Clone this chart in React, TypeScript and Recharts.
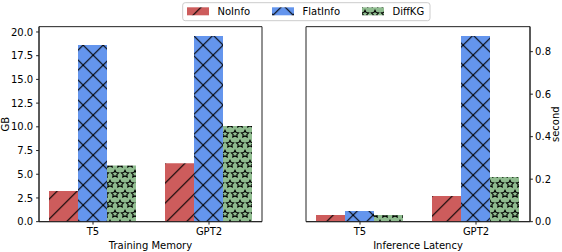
import React from 'react';
import { BarChart, Bar, XAxis, YAxis, Label, CartesianGrid } from 'recharts';

const categories = ['T5', 'GPT2'];
const seriesNames = ['NoInfo', 'FlatInfo', 'DiffKG'];
const seriesColors = ['#CD5C5C', '#6495ED', '#8FBC8F'];

const memoryNoInfo = [3.23, 6.15];
const memoryFlatInfo = [18.63, 19.58];
const memoryDiffKG = [5.91, 10.1];

const latencyNoInfo = [0.031, 0.121];
const latencyFlatInfo = [0.05, 0.874];
const latencyDiffKG = [0.031, 0.21];

const memoryTicks = [0, 2.5, 5, 7.5, 10, 12.5, 15, 17.5, 20];
const latencyTicks = [0, 0.2, 0.4, 0.6, 0.8];

const memoryData = categories.map((c, i) => ({
  name: c,
  NoInfo: memoryNoInfo[i],
  FlatInfo: memoryFlatInfo[i],
  DiffKG: memoryDiffKG[i],
}));
const latencyData = categories.map((c, i) => ({
  name: c,
  NoInfo: latencyNoInfo[i],
  FlatInfo: latencyFlatInfo[i],
  DiffKG: latencyDiffKG[i],
}));

const FONT = '"DejaVu Sans", sans-serif';
const SPINE = '#222';
const S = 20; // hatch line spacing
const SS = 10; // star spacing

const mod = (v: number, m: number) => ((v % m) + m) % m;

const starPoints = (cx: number, cy: number, r: number) => {
  const pts: string[] = [];
  for (let i = 0; i < 10; i++) {
    const a = (Math.PI * 2 * i) / 10 + Math.PI / 2;
    const rr = i % 2 === 0 ? r : r * 0.5;
    pts.push(`${(cx + rr * Math.cos(a)).toFixed(2)},${(cy - rr * Math.sin(a)).toFixed(2)}`);
  }
  return pts.join(' ');
};

function Patterns({ id, ox }: { id: string; ox: number }) {
  const ne = `M-2,${S + 2}L${S + 2},-2 M-2,2L2,-2 M${S - 2},${S + 2}L${S + 2},${S - 2}`;
  const se = `M-2,-2L${S + 2},${S + 2} M${S - 2},-2L${S + 2},2 M-2,${S - 2}L2,${S + 2}`;
  const r = 3.8;
  const starCenters = [
    [0, 0],
    [SS, 0],
    [0, 2 * SS],
    [SS, 2 * SS],
    [SS / 2, SS],
  ];
  return (
    <defs>
      <pattern
        id={`${id}-NoInfo`}
        patternUnits="userSpaceOnUse"
        width={S}
        height={S}
        patternTransform={`translate(${mod(8.3 - ox, S)},0)`}
      >
        <rect x={0} y={0} width={S} height={S} fill={seriesColors[0]} />
        <path d={ne} stroke="#000" strokeWidth={1.1} fill="none" />
      </pattern>
      <pattern
        id={`${id}-FlatInfo`}
        patternUnits="userSpaceOnUse"
        width={S}
        height={S}
        patternTransform={`translate(${mod(13.15 - ox, S)},-4.85)`}
      >
        <rect x={0} y={0} width={S} height={S} fill={seriesColors[1]} />
        <path d={ne} stroke="#000" strokeWidth={1.1} fill="none" />
        <path d={se} stroke="#000" strokeWidth={1.1} fill="none" />
      </pattern>
      <pattern
        id={`${id}-DiffKG`}
        patternUnits="userSpaceOnUse"
        width={SS}
        height={2 * SS}
        patternTransform={`translate(${mod(-ox, SS)},4)`}
      >
        <rect x={0} y={0} width={SS} height={2 * SS} fill={seriesColors[2]} />
        {starCenters.map(([cx, cy], k) => (
          <polygon key={k} points={starPoints(cx, cy, r)} fill="none" stroke="#000" strokeWidth={1.1} />
        ))}
      </pattern>
    </defs>
  );
}

const tickStyle = { fontFamily: FONT, fontSize: 10, fill: '#000' };

const yTitle = (text: string, side: 'left' | 'right') => (props: any) => {
  const vb = props.viewBox || {};
  const x = side === 'left' ? vb.x + 9 : vb.x + vb.width - 3;
  const y = vb.y + vb.height / 2;
  return (
    <text
      x={x}
      y={y}
      transform={`rotate(-90 ${x} ${y})`}
      textAnchor="middle"
      fontFamily={FONT}
      fontSize={10}
      fill="#000"
    >
      {text}
    </text>
  );
};

const xTitle = (text: string) => (props: any) => {
  const vb = props.viewBox || {};
  const x = vb.x + vb.width / 2;
  const y = vb.y + vb.height - 3.5;
  return (
    <text x={x} y={y} textAnchor="middle" fontFamily={FONT} fontSize={10} fill="#000">
      {text}
    </text>
  );
};

const frameH = ({ offset }: any) => [offset.top, offset.top + offset.height];
const frameV = ({ offset }: any) => [offset.left, offset.left + offset.width];

function Legend() {
  const patchX = [187, 272, 362];
  return (
    <svg width={562} height={26} style={{ position: 'absolute', left: 0, top: 0 }}>
      <Patterns id="lg" ox={0} />
      <rect x={182.7} y={2.7} width={247.3} height={18} rx={2.5} ry={2.5} fill="#fff" stroke="#ccc" strokeWidth={1} />
      {seriesNames.map((n, i) => (
        <g key={n}>
          <rect x={patchX[i]} y={7.3} width={22} height={8} fill={`url(#lg-${n})`} />
          <text x={patchX[i] + 30.5} y={15.2} fontFamily={FONT} fontSize={10} fill="#000">
            {n}
          </text>
        </g>
      ))}
    </svg>
  );
}

export default function App() {
  return (
    <div style={{ position: 'absolute', left: 0, top: 0, width: 562, height: 252, background: '#fff', overflow: 'hidden' }}>
      <svg width={0} height={0} style={{ position: 'absolute' }}>
        <Patterns id="p1" ox={0} />
        <Patterns id="p2" ox={281} />
      </svg>
      <div style={{ position: 'absolute', left: 0, top: 0 }}>
        <BarChart
          width={281}
          height={252}
          data={memoryData}
          margin={{ top: 26.67, right: 19, bottom: 0, left: 0 }}
          barCategoryGap={14}
          barGap={0}
        >
          <CartesianGrid
            stroke={SPINE}
            strokeWidth={1}
            fill="none"
            horizontalCoordinatesGenerator={frameH}
            verticalCoordinatesGenerator={frameV}
          />
          <XAxis
            dataKey="name"
            height={30.33}
            padding={{ left: -4, right: -5 }}
            tickSize={2.9}
            tickMargin={3.5}
            tick={tickStyle}
            stroke={SPINE}
            interval={0}
          >
            <Label content={xTitle('Training Memory')} />
          </XAxis>
          <YAxis
            width={39}
            domain={[0, 20.56]}
            ticks={memoryTicks}
            tickFormatter={(v: number) => v.toFixed(1)}
            tickSize={2.9}
            tickMargin={2.9}
            tick={tickStyle}
            stroke={SPINE}
            allowDataOverflow
          >
            <Label content={yTitle('GB', 'left')} />
          </YAxis>
          {seriesNames.map((n) => (
            <Bar key={n} dataKey={n} fill={`url(#p1-${n})`} isAnimationActive={false} />
          ))}
        </BarChart>
      </div>
      <div style={{ position: 'absolute', left: 281, top: 0 }}>
        <BarChart
          width={281}
          height={252}
          data={latencyData}
          margin={{ top: 26.67, right: 0, bottom: 0, left: 25 }}
          barCategoryGap={14}
          barGap={0}
        >
          <CartesianGrid
            stroke={SPINE}
            strokeWidth={1}
            fill="none"
            horizontalCoordinatesGenerator={frameH}
            verticalCoordinatesGenerator={frameV}
          />
          <XAxis
            dataKey="name"
            height={30.33}
            padding={{ left: -4, right: -4 }}
            tickSize={2.9}
            tickMargin={3.5}
            tick={tickStyle}
            stroke={SPINE}
            interval={0}
          >
            <Label content={xTitle('Inference Latency')} />
          </XAxis>
          <YAxis
            orientation="right"
            width={32}
            domain={[0, 0.9176]}
            ticks={latencyTicks}
            tickFormatter={(v: number) => v.toFixed(1)}
            tickSize={2.9}
            tickMargin={2.2}
            tick={tickStyle}
            stroke={SPINE}
            allowDataOverflow
          >
            <Label content={yTitle('second', 'right')} />
          </YAxis>
          {seriesNames.map((n) => (
            <Bar key={n} dataKey={n} fill={`url(#p2-${n})`} isAnimationActive={false} />
          ))}
        </BarChart>
      </div>
      <Legend />
    </div>
  );
}
